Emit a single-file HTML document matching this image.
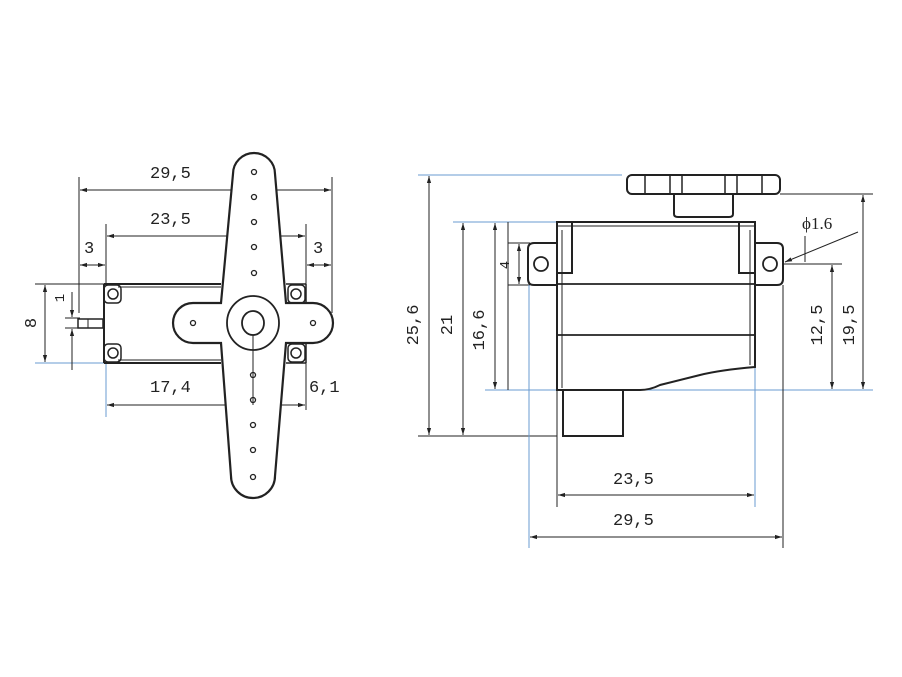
<!DOCTYPE html>
<html><head><meta charset="utf-8"><style>
html,body{margin:0;padding:0;background:#fff;}
svg{display:block}
text{font-family:"Liberation Mono",monospace;font-size:17px;fill:#222;}
</style></head><body>
<svg width="902" height="677" viewBox="0 0 902 677" xmlns="http://www.w3.org/2000/svg">
<defs>
<marker id="a" viewBox="0 0 10 10" refX="10" refY="5" markerWidth="7" markerHeight="7" orient="auto-start-reverse"><path d="M0,2 L10,5 L0,8 Z" fill="#222"/></marker>
</defs>
<g stroke="#222" fill="none" stroke-width="1">
<!-- LEFT DRAWING -->
<!-- extension lines -->
<line x1="79" y1="177" x2="79" y2="313"/>
<line x1="332" y1="177" x2="332" y2="313"/>
<line x1="106" y1="224" x2="106" y2="284"/>
<line x1="306" y1="224" x2="306" y2="410"/>
<line x1="35" y1="284" x2="105" y2="284"/>
<line x1="35" y1="363" x2="105" y2="363" stroke="#6a9bd0"/>
<line x1="106" y1="363" x2="106" y2="417" stroke="#6a9bd0"/>
<line x1="65" y1="318" x2="80" y2="318"/>
<line x1="65" y1="328" x2="80" y2="328"/>
<!-- dims -->
<line x1="80" y1="190" x2="331" y2="190" marker-start="url(#a)" marker-end="url(#a)"/>
<line x1="107" y1="236" x2="305" y2="236" marker-start="url(#a)" marker-end="url(#a)"/>
<line x1="80" y1="265" x2="105" y2="265" marker-start="url(#a)" marker-end="url(#a)"/>
<line x1="307" y1="265" x2="331" y2="265" marker-start="url(#a)" marker-end="url(#a)"/>
<line x1="45" y1="285" x2="45" y2="362" marker-start="url(#a)" marker-end="url(#a)"/>
<line x1="72" y1="292" x2="72" y2="317" marker-end="url(#a)"/>
<line x1="72" y1="370" x2="72" y2="329" marker-end="url(#a)"/>
<line x1="107" y1="405" x2="252" y2="405" marker-start="url(#a)" marker-end="url(#a)"/>
<line x1="254" y1="405" x2="305" y2="405" marker-start="url(#a)" marker-end="url(#a)"/>
<!-- body -->
<line x1="104" y1="284" x2="221" y2="284" stroke-width="2"/>
<line x1="118" y1="287" x2="221" y2="287"/>
<line x1="104" y1="363" x2="221" y2="363" stroke-width="2"/>
<line x1="118" y1="360" x2="221" y2="360"/>
<line x1="104" y1="284" x2="104" y2="363" stroke-width="2"/>
<line x1="286" y1="284" x2="306" y2="284" stroke-width="1.5"/>
<line x1="286" y1="363" x2="306" y2="363" stroke-width="1.5"/>
<line x1="306" y1="284" x2="306" y2="303" stroke-width="1.5"/>
<line x1="306" y1="343" x2="306" y2="363" stroke-width="1.5"/>
<rect x="78" y="319" width="25" height="9" stroke-width="1.5"/>
<line x1="88" y1="319" x2="88" y2="328"/>
<!-- corner screws -->
<g stroke-width="1.5">
<rect x="104" y="285" width="17" height="18" rx="4"/>
<rect x="104" y="344" width="17" height="18" rx="4"/>
<rect x="288" y="285" width="17" height="18" rx="4"/>
<rect x="288" y="344" width="17" height="18" rx="4"/>
<circle cx="113" cy="294" r="5"/><circle cx="113" cy="353" r="5"/>
<circle cx="296" cy="294" r="5"/><circle cx="296" cy="353" r="5"/>
</g>
<!-- horn -->
<path d="M233,174 A21,21 0 0 1 275,174 L286,303 L313,303 A20,20 0 0 1 313,343 L286,343 L275,476 A22,22 0 0 1 231,476 L221,343 L193,343 A20,20 0 0 1 193,303 L221,303 Z" fill="#fff" stroke-width="2.2"/>
<ellipse cx="253" cy="323" rx="26" ry="27" stroke-width="1.8"/>
<ellipse cx="253" cy="323" rx="11" ry="12" stroke-width="1.8"/>
<line x1="253" y1="335" x2="253" y2="405"/>
<g stroke-width="1.3">
<circle cx="254" cy="172" r="2.5"/><circle cx="254" cy="197" r="2.5"/><circle cx="254" cy="222" r="2.5"/><circle cx="254" cy="247" r="2.5"/><circle cx="254" cy="273" r="2.5"/>
<circle cx="253" cy="375" r="2.5"/><circle cx="253" cy="400" r="2.5"/><circle cx="253" cy="425" r="2.5"/><circle cx="253" cy="450" r="2.5"/><circle cx="253" cy="477" r="2.5"/>
<circle cx="193" cy="323" r="2.5"/><circle cx="313" cy="323" r="2.5"/>
</g>

<!-- RIGHT DRAWING -->
<line x1="418" y1="175" x2="622" y2="175" stroke="#6a9bd0"/>
<line x1="780" y1="194" x2="873" y2="194"/>
<line x1="453" y1="222" x2="557" y2="222" stroke="#6a9bd0"/>
<line x1="418" y1="436" x2="557" y2="436"/>
<line x1="485" y1="390" x2="873" y2="390" stroke="#6a9bd0"/>
<line x1="508" y1="222" x2="508" y2="390"/>
<line x1="508" y1="243" x2="530" y2="243"/>
<line x1="508" y1="285" x2="530" y2="285"/>
<line x1="783" y1="264" x2="842" y2="264"/>
<line x1="557" y1="390" x2="557" y2="507"/>
<line x1="755" y1="367" x2="755" y2="507" stroke="#6a9bd0"/>
<line x1="529" y1="285" x2="529" y2="548" stroke="#6a9bd0"/>
<line x1="783" y1="285" x2="783" y2="548"/>
<line x1="805" y1="236" x2="805" y2="262"/>
<!-- dims -->
<line x1="429" y1="176" x2="429" y2="435" marker-start="url(#a)" marker-end="url(#a)"/>
<line x1="463" y1="223" x2="463" y2="435" marker-start="url(#a)" marker-end="url(#a)"/>
<line x1="495" y1="223" x2="495" y2="389" marker-start="url(#a)" marker-end="url(#a)"/>
<line x1="519" y1="244" x2="519" y2="284" marker-start="url(#a)" marker-end="url(#a)"/>
<line x1="832" y1="265" x2="832" y2="389" marker-start="url(#a)" marker-end="url(#a)"/>
<line x1="863" y1="195" x2="863" y2="389" marker-start="url(#a)" marker-end="url(#a)"/>
<line x1="558" y1="495" x2="754" y2="495" marker-start="url(#a)" marker-end="url(#a)"/>
<line x1="530" y1="537" x2="782" y2="537" marker-start="url(#a)" marker-end="url(#a)"/>
<line x1="858" y1="232" x2="785" y2="262" marker-end="url(#a)"/>
<!-- gear -->
<rect x="627" y="175" width="153" height="19" rx="5" stroke-width="2"/>
<g stroke-width="1.5"><line x1="645" y1="176" x2="645" y2="193"/><line x1="670" y1="176" x2="670" y2="193"/><line x1="682" y1="176" x2="682" y2="193"/><line x1="725" y1="176" x2="725" y2="193"/><line x1="737" y1="176" x2="737" y2="193"/><line x1="762" y1="176" x2="762" y2="193"/></g>
<path d="M674,194 L674,214 Q674,217 678,217 L729,217 Q733,217 733,214 L733,194" stroke-width="2"/>
<!-- body -->
<path d="M557,222 L755,222 L755,367 Q720,370 700,375 Q680,380 660,385 Q650,390 640,390 L557,390 Z" stroke-width="2"/>
<line x1="562" y1="230" x2="562" y2="388"/>
<line x1="750" y1="230" x2="750" y2="365"/>
<line x1="557" y1="226" x2="755" y2="226"/>
<line x1="557" y1="284" x2="755" y2="284" stroke-width="1.8"/>
<line x1="557" y1="335" x2="755" y2="335" stroke-width="1.8"/>
<rect x="557" y="222" width="15" height="51" stroke-width="2"/>
<rect x="739" y="222" width="16" height="51" stroke-width="2"/>
<path d="M557,243 L534,243 Q528,243 528,249 L528,279 Q528,285 534,285 L557,285" stroke-width="2"/>
<path d="M755,243 L777,243 Q783,243 783,249 L783,279 Q783,285 777,285 L755,285" stroke-width="2"/>
<circle cx="541" cy="264" r="7" stroke-width="1.8"/>
<circle cx="770" cy="264" r="7" stroke-width="1.8"/>
<rect x="563" y="390" width="60" height="46" stroke-width="2"/>
</g>
<!-- labels -->
<text x="150" y="178">29,5</text>
<text x="150" y="224">23,5</text>
<text x="84" y="253">3</text>
<text x="313" y="253">3</text>
<text x="150" y="392">17,4</text>
<text x="309" y="392">6,1</text>
<text transform="translate(36,323) rotate(-90)" text-anchor="middle">8</text>
<text transform="translate(64,298) rotate(-90)" text-anchor="middle" style="font-size:14px">1</text>
<text x="613" y="484">23,5</text>
<text x="613" y="525">29,5</text>
<text transform="translate(418,325) rotate(-90)" text-anchor="middle">25,6</text>
<text transform="translate(452,325) rotate(-90)" text-anchor="middle">21</text>
<text transform="translate(484,330) rotate(-90)" text-anchor="middle">16,6</text>
<text transform="translate(509,265) rotate(-90)" text-anchor="middle" style="font-size:14px">4</text>
<text transform="translate(822,325) rotate(-90)" text-anchor="middle">12,5</text>
<text transform="translate(854,325) rotate(-90)" text-anchor="middle">19,5</text>
<text x="802" y="229" style="font-family:'Liberation Serif',serif;font-size:17px">ϕ1.6</text>
</svg>
</body></html>
